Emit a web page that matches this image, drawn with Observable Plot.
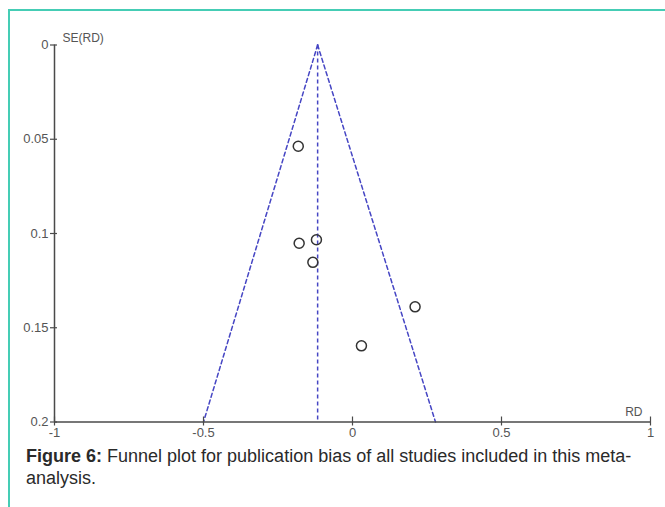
<!DOCTYPE html>
<html>
<head>
<meta charset="utf-8">
<script src="https://cdn.jsdelivr.net/npm/d3@7"></script>
<script src="https://cdn.jsdelivr.net/npm/@observablehq/plot@0.6"></script>
<style>
  html, body { margin: 0; padding: 0; background: #fff; }
  #wrap { position: relative; width: 665px; height: 507px; overflow: hidden; font-family: "Liberation Sans", Arial, sans-serif; }
  #frame { position: absolute; left: 8px; top: 9px; width: 660px; height: 510px; border-top: 2px solid #45cdb5; border-left: 2px solid #45cdb5; }
  #chart { position: absolute; left: 0; top: 0; }
  #caption { position: absolute; left: 26px; top: 445px; font-size: 18px; line-height: 22px; color: #2a2a2a; white-space: nowrap; }
</style>
</head>
<body>
<div id="wrap">
  <div id="frame"></div>
  <div id="chart"></div>
  <div id="caption"><b>Figure 6:</b> Funnel plot for publication bias of all studies included in this meta-<br>analysis.</div>
</div>
<script>
// Study estimates (risk difference) and their standard errors
const studyRD = [-0.182, -0.179, -0.121, -0.133, 0.210, 0.030];
const studySE = [0.0537, 0.1052, 0.1033, 0.1153, 0.1389, 0.1596];

// Pooled estimate and funnel (pseudo 95% limits)
const pooledRD = -0.117;
const funnelSE = [0, 0.2];
const funnelLeftRD = [-0.117, -0.5];
const funnelRightRD = [-0.117, 0.2785];

// Axis ticks
const xTicks = [-1, -0.5, 0, 0.5, 1];
const yTicks = [0, 0.05, 0.1, 0.15, 0.2];
const xLabel = "RD";
const yLabel = "SE(RD)";

const points = studyRD.map((d, i) => ({rd: d, se: studySE[i]}));
const leftLine = funnelSE.map((s, i) => ({rd: funnelLeftRD[i], se: s}));
const rightLine = funnelSE.map((s, i) => ({rd: funnelRightRD[i], se: s}));

const axisColor = "#4a4a4a";
const textColor = "#555";
const dashColor = "#4646c4";
const xMin = xTicks[0], xMax = xTicks[xTicks.length - 1];
const yMin = yTicks[0], yMax = yTicks[yTicks.length - 1];

const chart = Plot.plot({
  width: 665,
  height: 440,
  marginLeft: 54,
  marginRight: 15,
  marginTop: 44.5,
  marginBottom: 18.5,
  style: { fontFamily: "'Liberation Sans', Arial, sans-serif", background: "transparent" },
  x: { domain: [xMin, xMax], label: null },
  y: { domain: [yMin, yMax], reverse: true, label: null },
  marks: [
    // funnel
    Plot.line(leftLine, { x: "rd", y: "se", stroke: dashColor, strokeWidth: 1.5, strokeDasharray: "4,3" }),
    Plot.line(rightLine, { x: "rd", y: "se", stroke: dashColor, strokeWidth: 1.5, strokeDasharray: "4,3" }),
    Plot.ruleX([pooledRD], { y1: funnelSE[0], y2: funnelSE[1], stroke: dashColor, strokeWidth: 1.5, strokeDasharray: "4,3" }),
    // axis lines
    Plot.ruleX([xMin], { y1: yMin, y2: yMax, stroke: axisColor, strokeWidth: 1.5 }),
    Plot.ruleY([yMax], { x1: xMin, x2: xMax, stroke: axisColor, strokeWidth: 1.5 }),
    // tick marks crossing the axes
    Plot.ruleY(yTicks, { y: d => d, x1: xMin, x2: xMin, insetLeft: -4, insetRight: -3, stroke: axisColor, strokeWidth: 1.2 }),
    Plot.ruleX(xTicks, { x: d => d, y1: yMax, y2: yMax, insetTop: -5, insetBottom: -4, stroke: axisColor, strokeWidth: 1.2 }),
    // tick labels
    Plot.axisY({ ticks: yTicks, tickSize: 0, tickPadding: 6, tickFormat: d => String(d), fill: textColor, fontSize: 13, label: null }),
    Plot.axisX({ anchor: "bottom", ticks: xTicks, tickSize: 0, tickPadding: 6, tickFormat: d => String(d), fill: textColor, fontSize: 13, label: null }),
    // axis titles
    Plot.text([yLabel], { x: xMin, y: yMin, text: d => d, dx: 8, dy: -7, textAnchor: "start", fill: textColor, fontSize: 12 }),
    Plot.text([xLabel], { x: xMax, y: yMax, text: d => d, dx: -8, dy: -10, textAnchor: "end", fill: textColor, fontSize: 12 }),
    // studies
    Plot.dot(points, { x: "rd", y: "se", r: 5, stroke: "#333", strokeWidth: 1.5, fill: "none" })
  ]
});
document.getElementById("chart").appendChild(chart);
</script>
</body>
</html>
